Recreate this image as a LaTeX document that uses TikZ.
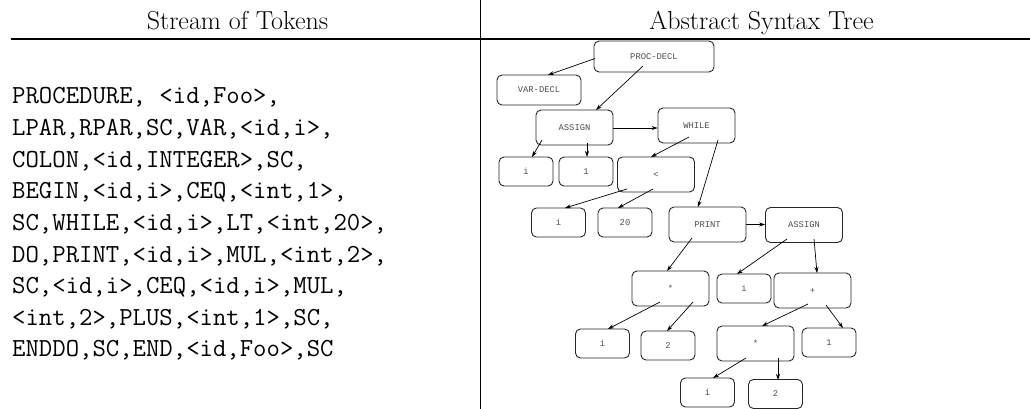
\documentclass[tikz,border=0pt]{standalone}
\usepackage{fontspec}
\newfontfamily\treefont{Liberation Mono}
\usetikzlibrary{arrows.meta,calc}
\tikzset{
  treebox/.style={draw=black!85, line width=0.9pt, rounded corners=5pt, inner sep=0pt,
    font=\treefont\fontsize{8.8}{10}\selectfont, text=black!70},
  bigbox/.style={treebox, minimum width=77pt, minimum height=35pt},
  smallbox/.style={treebox, minimum width=54pt, minimum height=29pt},
  edge/.style={line width=0.7pt, -{Stealth[length=6pt,width=4pt]}},
  title/.style={anchor=base, inner sep=0pt, font=\fontsize{26}{31.2}\selectfont},
  tok/.style={anchor=base west, inner sep=0pt, font=\ttfamily\fontsize{26}{31.2}\selectfont},
  rule/.style={line width=1.1pt}
}
\begin{document}
\begin{tikzpicture}[x=1pt,y=-1pt]
\useasboundingbox (0,0) rectangle (1030,409);
% header
\node[title] (h1) at (237.5,30) {Stream of Tokens};
\node[title] (h2) at (761.5,30) {Abstract Syntax Tree};
\coordinate (rl) at (11,39);
\coordinate (rr) at (1030,39);
\draw[rule] (rl) -- (rr);
\coordinate (vt) at (480.5,0);
\coordinate (vb) at (480.5,409);
\draw[rule] (vt) -- (vb);
% tokens
\foreach \t [count=\k from 0] in {%
  {PROCEDURE, <id,Foo>,},
  {LPAR,RPAR,SC,VAR,<id,i>,},
  {COLON,<id,INTEGER>,SC,},
  {BEGIN,<id,i>,CEQ,<int,1>,},
  {SC,WHILE,<id,i>,LT,<int,20>,},
  {DO,PRINT,<id,i>,MUL,<int,2>,},
  {SC,<id,i>,CEQ,<id,i>,MUL,},
  {<int,2>,PLUS,<int,1>,SC,},
  {ENDDO,SC,END,<id,Foo>,SC}}
  \node[tok] (t\k) at (12,{104+31.6*\k}) {\t};
% tree nodes
\node[treebox, minimum width=120pt, minimum height=31pt] (pd) at (654,56.5) {PROC-DECL};
\node[treebox, minimum width=84pt, minimum height=30pt] (vd) at (539,90) {VAR-DECL};
\node[bigbox] (as1) at (574.5,127.5) {ASSIGN};
\node[bigbox] (wh) at (696.5,125.5) {WHILE};
\node[smallbox] (i1) at (526,171.5) {i};
\node[smallbox] (one1) at (586,171.5) {1};
\node[bigbox] (lt) at (656,174.5) {<};
\node[smallbox] (i2) at (558.5,222.5) {i};
\node[smallbox] (n20) at (625,222.5) {20};
\node[bigbox] (pr) at (707.5,224.5) {PRINT};
\node[bigbox] (as2) at (804,225) {ASSIGN};
\node[bigbox] (m1) at (670.5,288.5) {*};
\node[smallbox] (i3) at (744,288.5) {i};
\node[bigbox] (pl) at (812.5,290.5) {+};
\node[smallbox] (i4) at (602.5,343.5) {i};
\node[smallbox] (two1) at (668,345.5) {2};
\node[bigbox] (m2) at (755.5,343.5) {*};
\node[smallbox] (one2) at (829,342.5) {1};
\node[smallbox] (i5) at (707.5,392.5) {i};
\node[smallbox] (two2) at (775.5,394) {2};
% edges
\draw[edge] ($(pd.center)+(-59,2)$) -- ($(vd.center)+(9,-15)$);
\draw[edge] ($(pd.center)+(-11,9.5)$) -- ($(as1.center)+(21.5,-17.5)$);
\draw[edge] ($(as1.east)+(0,0.5)$) -- ($(as1.east -| wh.west)+(0,0.5)$);
\draw[edge] ($(wh.center)+(-7.5,11.5)$) -- ($(lt.center)+(-5,-17.5)$);
\draw[edge] ($(wh.center)+(21.5,14.5)$) -- ($(pr.center)+(-9.5,-17.5)$);
\draw[edge] ($(as1.center)+(-32.5,12.5)$) -- ($(i1.center)+(6,-14.5)$);
\draw[edge] ($(as1.center)+(12.5,15.5)$) -- ($(one1.center)+(1,-14.5)$);
\draw[edge] ($(lt.center)+(-29,14.5)$) -- ($(i2.center)+(6.5,-14.5)$);
\draw[edge] ($(lt.center)+(-3,14.5)$) -- ($(n20.center)+(-7,-14.5)$);
\draw[edge] (pr.east) -- (pr.east -| as2.west);
\draw[edge] ($(pr.center)+(-15.5,13.5)$) -- ($(m1.center)+(-3.5,-17.5)$);
\draw[edge] ($(as2.center)+(-17,14)$) -- ($(i3.center)+(-7,-14.5)$);
\draw[edge] ($(as2.center)+(10,14)$) -- ($(pl.center)+(4.5,-17.5)$);
\draw[edge] ($(m1.center)+(-10.5,13.5)$) -- ($(i4.center)+(5.5,-14.5)$);
\draw[edge] ($(m1.center)+(22.5,13.5)$) -- ($(two1.center)+(-1,-14.5)$);
\draw[edge] ($(pl.center)+(-4.5,13.5)$) -- ($(m2.center)+(6.5,-17.5)$);
\draw[edge] ($(pl.center)+(13.5,14.5)$) -- ($(one2.center)+(14,-14.5)$);
\draw[edge] ($(m2.center)+(-9.5,14.5)$) -- ($(i5.center)+(5.5,-14.5)$);
\draw[edge] ($(m2.center)+(22.5,14.5)$) -- ($(two2.center)+(2.5,-14)$);
\end{tikzpicture}
\end{document}
